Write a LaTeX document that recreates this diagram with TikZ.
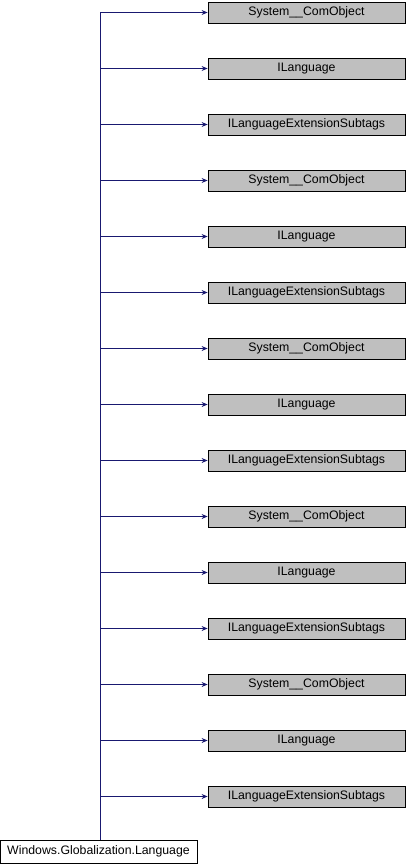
\documentclass[tikz,border=0pt]{standalone}
\usepackage{fontspec}
\setmainfont{Liberation Sans}
\usetikzlibrary{arrows.meta}
\definecolor{edgeblue}{RGB}{25,25,112}
\tikzset{
  basebox/.style={draw=black, fill=gray!50, line width=0.8pt, minimum width=197pt, minimum height=21pt, inner sep=0pt},
  classbox/.style={draw=black, fill=white, line width=0.8pt, minimum width=197pt, minimum height=23pt, inner sep=0pt},
  edge/.style={edgeblue, line width=0.8pt}
}
\begin{document}
\begin{tikzpicture}[x=1pt, y=-1pt, >={Stealth[length=6pt,width=5pt]}, font=\fontsize{12.3}{14}\selectfont]
\useasboundingbox (0,0) rectangle (406,864);
\node [classbox] (lang) at (98.5,851.5) {Windows.Globalization.Language};
\coordinate (trunk) at (100,12.5);
\draw [edge] (lang.north -| trunk) -- (trunk);

\foreach \name [count=\i from 0] in {System\_\_ComObject, ILanguage, ILanguageExtensionSubtags,
  System\_\_ComObject, ILanguage, ILanguageExtensionSubtags,
  System\_\_ComObject, ILanguage, ILanguageExtensionSubtags,
  System\_\_ComObject, ILanguage, ILanguageExtensionSubtags,
  System\_\_ComObject, ILanguage, ILanguageExtensionSubtags}
{
  \node [basebox] (b\i) at (306.5, 12.5+56*\i) {\name};
  \draw [edge, ->] (trunk |- b\i) -- (b\i.west);
}
\end{tikzpicture}
\end{document}
